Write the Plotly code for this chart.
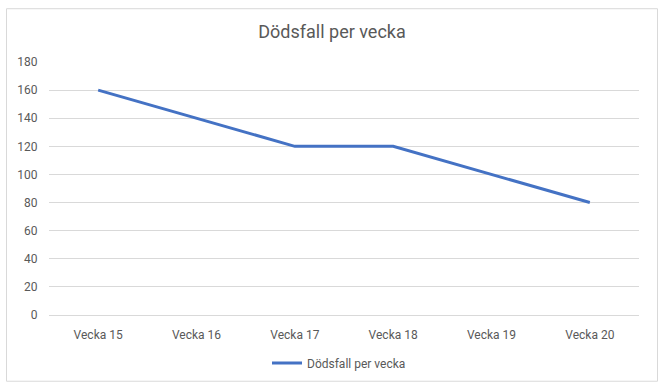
import plotly.graph_objects as go

categories = ["Vecka 15", "Vecka 16", "Vecka 17", "Vecka 18", "Vecka 19", "Vecka 20"]
deaths = [160, 140, 120, 120, 100, 80]
series_name = "Dödsfall per vecka"
title_text = "Dödsfall per vecka"

L, R, T, B = 49, 25, 62, 72
W, H = 664, 388
pw, ph = W - L - R, H - T - B

def px2x(x):
    return (x - L) / pw

def px2y(y):
    return (H - B - y) / ph

fig = go.Figure()
fig.add_trace(go.Scatter(
    x=categories, y=deaths, mode="lines", name=series_name,
    line=dict(color="#4472C4", width=3),
))

fig.update_layout(
    width=W, height=H,
    margin=dict(l=L, r=R, t=T, b=B),
    paper_bgcolor="white", plot_bgcolor="white",
    font=dict(family="Roboto, Liberation Sans, sans-serif", size=12, color="#595959"),
    title=dict(text=title_text, x=0.5, xanchor="center", y=1 - 32 / H, yanchor="middle",
               font=dict(size=18, color="#595959")),
    showlegend=True,
    legend=dict(orientation="h", x=px2x(339), xanchor="center", y=px2y(363), yanchor="middle",
                font=dict(size=12, color="#595959"), itemwidth=30),
    xaxis=dict(showgrid=False, showline=False, zeroline=False,
               ticks="outside", ticklen=9, tickcolor="rgba(0,0,0,0)",
               range=[-0.5, 5.5], tickfont=dict(size=12, color="#595959")),
    yaxis=dict(range=[0, 180], dtick=20, showgrid=True, gridcolor="#d9d9d9", gridwidth=1,
               zeroline=True, zerolinecolor="#d9d9d9", zerolinewidth=1,
               showline=False, ticks="outside", ticklen=8, tickcolor="rgba(0,0,0,0)",
               tickfont=dict(size=12, color="#595959")),
    shapes=[dict(type="rect", xref="paper", yref="paper",
                 x0=px2x(6.5), x1=px2x(657.5), y0=px2y(382.5), y1=px2y(8.5),
                 line=dict(color="#d9d9d9", width=1), fillcolor="rgba(0,0,0,0)", layer="below")],
)

fig.write_html("out.html")
